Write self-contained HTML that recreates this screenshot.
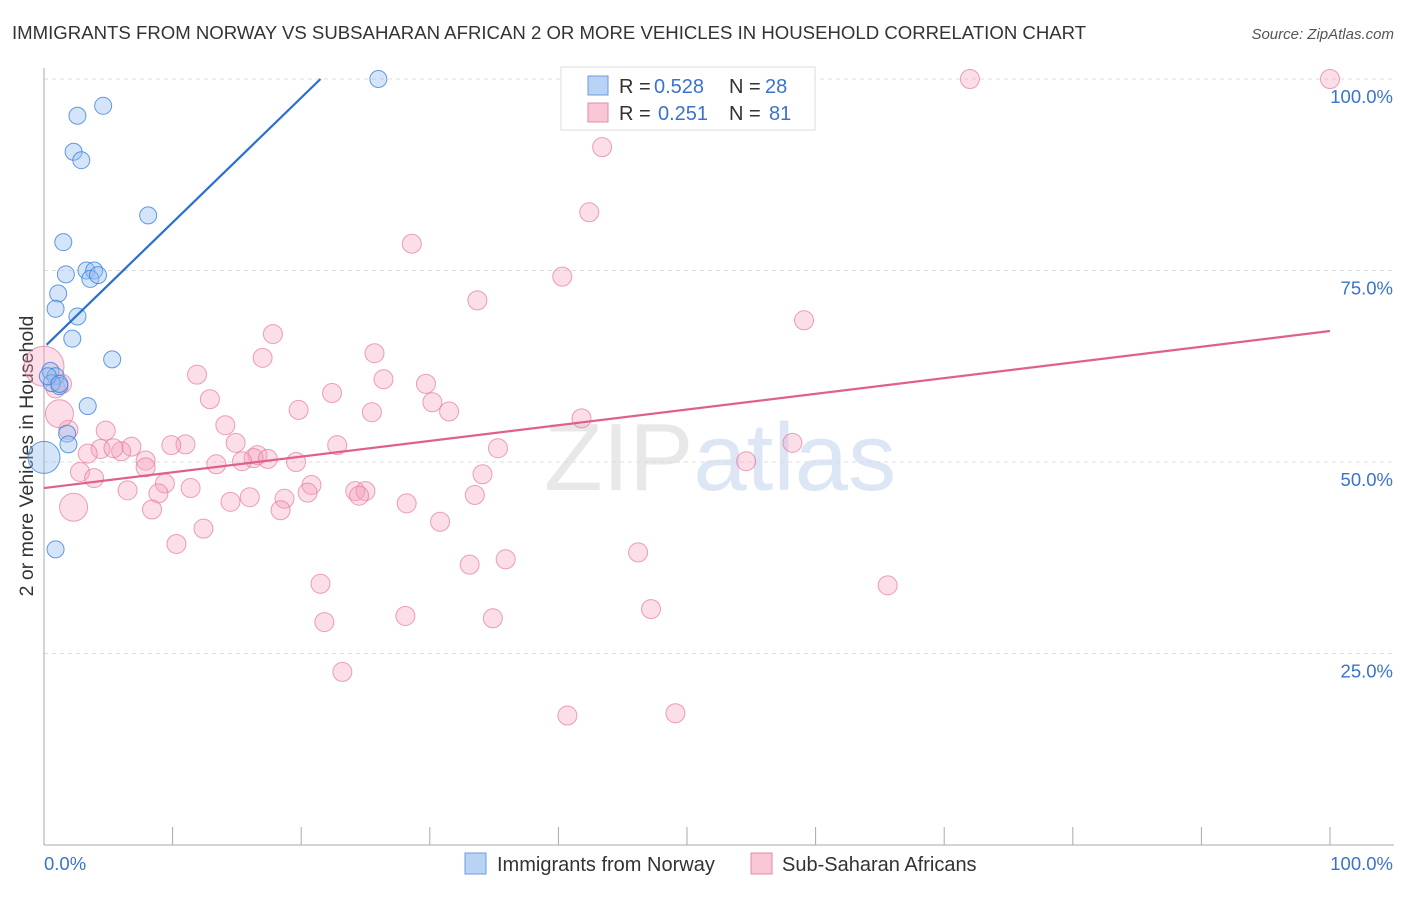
<!DOCTYPE html>
<html><head><meta charset="utf-8"><style>
body{margin:0;background:#fff;font-family:"Liberation Sans",sans-serif;}
svg text{font-family:"Liberation Sans",sans-serif;}
</style></head><body>
<svg id="chart" width="1406" height="892" xmlns="http://www.w3.org/2000/svg">
<text x="12" y="39" font-size="18.6" fill="#333">IMMIGRANTS FROM NORWAY VS SUBSAHARAN AFRICAN 2 OR MORE VEHICLES IN HOUSEHOLD CORRELATION CHART</text>
<text x="1394" y="39" font-size="15" fill="#555" text-anchor="end" font-style="italic">Source: ZipAtlas.com</text>
<text transform="translate(33,456) rotate(-90)" font-size="19.5" fill="#333" text-anchor="middle">2 or more Vehicles in Household</text>
<text x="720" y="490" font-size="96" fill="#e8e8e8" text-anchor="middle" font-family="Liberation Serif">ZIP<tspan fill="#dce6f5" font-family="Liberation Sans">atlas</tspan></text>
<g id="grid"></g><g id="axes"></g><g id="pts"></g><g id="trend"></g>
<g>
<rect x="561" y="67" width="254" height="63" fill="#fff" stroke="#ddd"/>
<rect x="588" y="76" width="20" height="19" fill="#b9d3f5" stroke="#6a9be0"/>
<text x="619" y="93" font-size="20" fill="#333">R =</text>
<text x="654" y="93" font-size="20" fill="#3a72d0">0.528</text>
<text x="729" y="93" font-size="20" fill="#333">N =</text>
<text x="765" y="93" font-size="20" fill="#3a72d0">28</text>
<rect x="588" y="103" width="20" height="19" fill="#f8c6d5" stroke="#e68aa8"/>
<text x="619" y="120" font-size="20" fill="#333">R =</text>
<text x="658" y="120" font-size="20" fill="#3a72d0">0.251</text>
<text x="729" y="120" font-size="20" fill="#333">N =</text>
<text x="769" y="120" font-size="20" fill="#3a72d0">81</text>
</g>
<g>
<rect x="465" y="853" width="21" height="21" fill="#b9d3f5" stroke="#6a9be0"/>
<text x="497" y="871" font-size="20" fill="#333">Immigrants from Norway</text>
<rect x="751" y="853" width="21" height="21" fill="#f8c6d5" stroke="#e68aa8"/>
<text x="782" y="871" font-size="20" fill="#333">Sub-Saharan Africans</text>
</g>
</svg>
<script>
const yTicks=[25,50,75,100];
const xTickLabels=["0.0%","100.0%"];
const blueX=[26,4.6,2.6,2.3,2.9,8.1,1.5,1.7,3.3,3.9,3.6,4.2,1.1,0.9,2.6,2.2,5.3,0.5,0.9,1.2,0.6,3.4,1.8,1.9,0,0.9,0.3,1.2];
const blueY=[100,96.5,95.2,90.5,89.4,82.2,78.7,74.5,75,75,73.9,74.4,72,70,69,66.1,63.4,61.9,61.2,59.9,60.3,57.3,53.7,52.3,50.6,38.6,61.2,60.2];
const pinkX=[72,100,43.4,42.4,28.6,40.3,33.7,59.1,17.8,17,11.9,25.7,26.4,29.7,22.4,12.9,19.8,30.2,31.5,25.5,41.8,14.1,4.8,1.9,14.9,22.8,58.2,6.8,11,9.9,4.4,6,5.4,35.3,7.9,16.6,16.3,17.4,19.6,15.4,13.4,54.6,3.4,7.9,34.1,2.8,3.9,9.4,6.5,11.4,20.8,8.9,16,24.2,25,24.5,14.5,18.7,20.5,33.5,28.2,8.4,18.4,2.3,30.8,12.4,10.3,46.2,35.9,33.1,21.5,65.6,47.2,28.1,34.9,21.8,23.2,40.7,49.1,0,1.2,1.4,0.9];
const pinkY=[100,100,91.1,82.6,78.5,74.2,71.1,68.5,66.7,63.6,61.4,64.2,60.8,60.2,59,58.2,56.8,57.8,56.6,56.5,55.7,54.8,54.1,54.2,52.5,52.2,52.5,52,52.3,52.2,51.7,51.4,51.8,51.8,50.2,50.9,50.5,50.4,50,50.1,49.7,50.1,51.1,49.3,48.4,48.7,47.9,47.2,46.3,46.6,47,45.9,45.4,46.2,46.2,45.6,44.8,45.2,46,45.7,44.6,43.8,43.7,44.1,42.2,41.3,39.3,38.2,37.3,36.6,34.1,33.9,30.8,29.9,29.6,29.1,22.6,16.9,17.2,62.5,56.3,60.2,59.6];
const bigBlue=[24];const bigPink=[79,80,63];
const X=v=>44+v*12.86, Y=v=>845-v*7.66;
const NS="http://www.w3.org/2000/svg";
function mk(tag,attrs,parent){const e=document.createElementNS(NS,tag);for(const k in attrs)e.setAttribute(k,attrs[k]);document.getElementById(parent).appendChild(e);return e;}
yTicks.forEach(t=>{
 const l=mk('line',{x1:44,x2:1394,y1:Y(t),y2:Y(t),stroke:'#ddd','stroke-dasharray':'4,4'},'grid');
 
 
 const tx=mk('text',{x:1393,y:Y(t)+24,'font-size':18.5,fill:'#3a72d0','text-anchor':'end'},'grid');
 tx.textContent=t.toFixed(1)+'%';
 
 
});
mk('line',{x1:44,x2:44,y1:68,y2:845,stroke:'#aaa'},'axes');
mk('line',{x1:44,x2:1394,y1:845,y2:845,stroke:'#aaa'},'axes');
for(let i=0;i<=10;i++){const t=mk('line',{x1:X(i*10),x2:X(i*10),y1:827,y2:845,stroke:'#aaa'},'axes');
 
 }
[[0,'start',X(0)],[1,'end',1393]].forEach(([i,a,x])=>{const t=mk('text',{x:x,y:870,'font-size':18.5,fill:'#3a72d0','text-anchor':a},'axes');t.textContent=xTickLabels[i];
 
 });
pinkX.forEach((x,i)=>{const c=mk('circle',{cx:X(x),cy:Y(pinkY[i]),r:bigPink.includes(i)?(i==79?20:14):9.5,fill:'rgba(244,160,188,0.35)',stroke:'rgba(230,120,160,0.7)','stroke-width':1},'pts');
 
 });
blueX.forEach((x,i)=>{const c=mk('circle',{cx:X(x),cy:Y(blueY[i]),r:bigBlue.includes(i)?16:8.5,fill:'rgba(150,190,240,0.4)',stroke:'rgba(60,130,220,0.8)','stroke-width':1},'pts');
 
 });
const bl=mk('line',{x1:X(0.2),y1:Y(65.3),x2:X(21.5),y2:Y(100),stroke:'#2a6fd0','stroke-width':2.2},'trend');


const pl=mk('line',{x1:X(0),y1:Y(46.6),x2:X(100),y2:Y(67.1),stroke:'#e0608d','stroke-width':2.2},'trend');


</script>
</body></html>
